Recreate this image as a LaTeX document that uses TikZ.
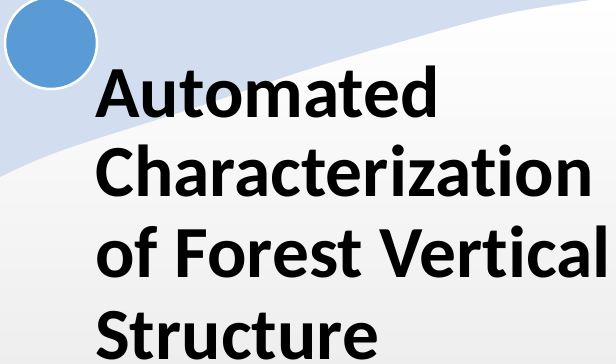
\documentclass[tikz,border=0pt]{standalone}
\usepackage{fontspec}
\setmainfont{Carlito}[Ligatures=NoCommon]
\definecolor{paleblue}{HTML}{D2DEEF}
\definecolor{dotblue}{HTML}{5B9BD5}
\definecolor{bgbottom}{HTML}{EEEEEE}
\begin{document}
\begin{tikzpicture}[x=1pt,y=1pt,
  titleline/.style={anchor=base west, inner sep=0pt, font=\fontsize{73.5}{80}\selectfont\bfseries, text=black}]
  \useasboundingbox (0,0) rectangle (616,364);
  \clip (0,0) rectangle (616,364);
  % slide background with a faint vertical gradient
  \shade[top color=white, bottom color=bgbottom] (0,0) rectangle (616,364);
  % pale blue swoosh across the upper left corner
  \fill[paleblue] (0,364) -- (0,187)
    plot[smooth, tension=0.6] coordinates {(0,187) (63,214) (200,258) (300,292) (400,322) (500,349) (590,364) (620,368)}
    -- (620,370) -- (0,370) -- cycle;
  % accent dot
  \node (dot) [circle, fill=dotblue, draw=white, line width=2.5pt, minimum size=92pt, inner sep=0pt] at (51,321) {};
  % title
  \node[titleline] (l1) at (95,246) {Automated};
  \node[titleline] (l2) at (95,167) {Characterization};
  \node[titleline] (l3) at (95,86) {of Forest Vertical};
  \node[titleline] (l4) at (95,4) {Structure};
\end{tikzpicture}
\end{document}
